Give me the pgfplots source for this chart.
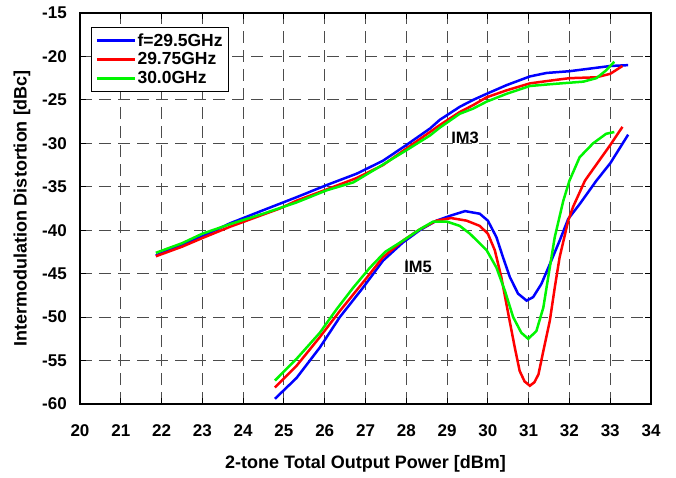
\documentclass[border=0pt]{standalone}
\usepackage{fontspec}
\setmainfont{Liberation Sans}
\usepackage{pgfplots}
\pgfplotsset{compat=1.18}

\definecolor{cblue}{RGB}{0,0,255}
\definecolor{cred}{RGB}{255,0,0}
\definecolor{cgreen}{RGB}{0,245,0}

\begin{document}
\begin{tikzpicture}
% fixed page: 676 x 477 with the axis box at (0,0)-(571,391)
\path[use as bounding box] (-80pt,-73pt) rectangle (596pt,404pt);
\begin{axis}[
    at={(0pt,0pt)}, anchor=south west,
    scale only axis, width=571pt, height=391pt,
    xmin=20, xmax=34, ymin=-60, ymax=-15,
    xtick={20,21,...,34}, ytick={-60,-55,...,-15},
    grid=major,
    major grid style={dash pattern=on 12pt off 7pt, black!70, line width=1pt},
    major tick length=6pt,
    tick style={black, line width=1pt},
    axis line style={line width=1.5pt},
    /pgf/number format/assume math mode=true,
    ticklabel style={font=\fontsize{17}{20}\selectfont\bfseries},
    xticklabel style={anchor=base, inner sep=0pt, yshift=-32pt},
    yticklabel style={anchor=east, inner sep=0pt, xshift=-13pt},
    xlabel={2-tone Total Output Power [dBm]},
    ylabel={Intermodulation Distortion [dBc]},
    label style={font=\fontsize{18}{20}\selectfont\bfseries},
    xlabel style={at={(axis description cs:0.5,-0.1662)}, anchor=base},
    ylabel style={at={(axis description cs:-0.1016,0.5)}, anchor=center, rotate=0},
    legend style={at={(0.0193,0.9642)}, anchor=north west, draw=black, line width=1pt,
        font=\fontsize{17.5}{18}\selectfont\bfseries,
        inner xsep=4pt, inner ysep=6pt, row sep=5pt,
        nodes={inner xsep=1.5pt, inner ysep=0pt}},
    legend cell align=left,
    legend image code/.code={\draw[#1] (0pt,0pt) -- (38pt,0pt);},
    every axis plot/.append style={line width=2.5pt},
]
% IM3
\addplot[cblue] coordinates {
(21.86,-42.9) (22.5,-41.7) (23.0,-40.7) (23.68,-39.2) (24.49,-37.7)
(25.31,-36.2) (26.05,-34.8) (26.78,-33.5) (27.43,-32.0) (28.0,-30.2)
(28.58,-28.3) (28.82,-27.3) (29.31,-25.8) (29.64,-25.0) (29.97,-24.3)
(30.46,-23.3) (31.03,-22.3) (31.44,-21.9) (32.0,-21.7) (32.5,-21.4)
(33.0,-21.1) (33.44,-21.0)};
\addlegendentry{f=29.5GHz}
\addplot[cred] coordinates {
(21.86,-43.0) (22.5,-41.9) (23.0,-40.9) (23.68,-39.6) (24.49,-38.2)
(24.9,-37.5) (25.31,-36.6) (26.05,-35.3) (26.78,-34.0) (27.43,-32.5)
(28.0,-30.6) (28.58,-28.7) (28.82,-27.9) (29.31,-26.4) (29.64,-25.6)
(29.97,-24.7) (30.46,-23.9) (31.03,-23.1) (31.5,-22.8) (32.0,-22.5)
(32.66,-22.4) (33.0,-22.0) (33.3,-21.1)};
\addlegendentry{29.75GHz}
\addplot[cgreen] coordinates {
(21.86,-42.6) (22.5,-41.5) (23.0,-40.4) (23.68,-39.3) (24.49,-38.1)
(25.31,-36.8) (26.05,-35.4) (26.70,-34.5) (27.27,-32.9) (28.0,-30.8)
(28.58,-29.1) (28.82,-28.2) (29.31,-26.6) (29.64,-26.0) (29.97,-25.2)
(30.46,-24.3) (31.03,-23.4) (31.52,-23.2) (32.34,-22.9) (32.66,-22.5)
(32.9,-21.6) (33.1,-20.6)};
\addlegendentry{30.0GHz}
% IM5
\addplot[cblue, forget plot] coordinates {
(24.78,-59.4) (25.31,-57.0) (25.88,-53.5) (26.37,-50.0) (26.94,-46.6)
(27.43,-43.5) (27.92,-41.4) (28.33,-40.0) (28.74,-38.9) (29.1,-38.3)
(29.44,-37.8) (29.8,-38.1) (30.0,-38.9) (30.21,-40.8) (30.37,-43.1)
(30.54,-45.4) (30.74,-47.3) (30.95,-48.1) (31.11,-47.7) (31.31,-46.2)
(31.52,-43.9) (31.76,-41.2) (31.97,-38.7) (32.25,-37.0) (32.66,-34.3)
(33.0,-32.3) (33.44,-29.0)};
\addplot[cred, forget plot] coordinates {
(24.78,-58.1) (25.31,-55.6) (25.88,-52.3) (26.37,-49.3) (26.94,-46.0)
(27.43,-43.1) (27.92,-41.2) (28.33,-39.9) (28.74,-38.9) (29.1,-38.6)
(29.48,-38.9) (29.8,-39.5) (30.0,-40.4) (30.17,-42.3) (30.33,-45.4)
(30.5,-49.6) (30.66,-53.5) (30.78,-56.2) (30.9,-57.4) (31.03,-57.9)
(31.14,-57.5) (31.24,-56.6) (31.36,-53.9) (31.52,-50.4) (31.64,-46.6)
(31.76,-43.1) (31.97,-38.9) (32.09,-37.3) (32.38,-34.3) (32.5,-33.5)
(33.0,-30.2) (33.3,-28.1)};
\addplot[cgreen, forget plot] coordinates {
(24.78,-57.3) (25.31,-54.8) (25.88,-51.8) (26.29,-49.1) (26.70,-46.6)
(27.11,-44.3) (27.48,-42.5) (27.92,-41.2) (28.33,-39.9) (28.66,-39.0)
(28.99,-39.0) (29.31,-39.5) (29.56,-40.4) (29.97,-42.3) (30.21,-44.3)
(30.42,-47.0) (30.62,-50.0) (30.82,-51.8) (30.99,-52.5) (31.19,-51.6)
(31.36,-48.9) (31.48,-45.4) (31.64,-40.8) (31.85,-36.6) (32.0,-34.3)
(32.25,-31.6) (32.58,-30.0) (32.9,-28.9) (33.1,-28.7)};
\node[font=\fontsize{16.5}{18}\selectfont\bfseries] at (axis cs:29.44,-29.36) {IM3};
\node[font=\fontsize{16.5}{18}\selectfont\bfseries] at (axis cs:28.29,-44.18) {IM5};
\end{axis}
\end{tikzpicture}
\end{document}
